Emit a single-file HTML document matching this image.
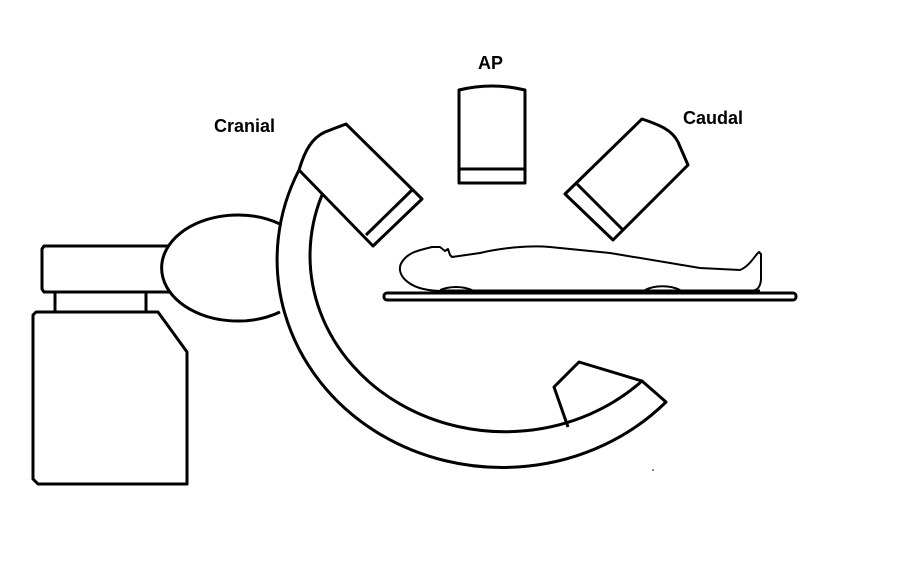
<!DOCTYPE html>
<html><head><style>html,body{margin:0;padding:0;background:#fff}svg{display:block}</style></head>
<body>
<svg width="918" height="570" viewBox="0 0 918 570" xmlns="http://www.w3.org/2000/svg">
<g fill="none" stroke="#000" stroke-width="3" stroke-linejoin="round">
<!-- base -->
<path d="M36,312 L158,312 L187,352 L187,484 L38,484 L33,479 L33,315 Z" fill="#fff"/>
<line x1="55" y1="292" x2="55" y2="312"/>
<line x1="146" y1="292" x2="146" y2="312"/>
<path d="M44,246 L200,246 L200,292 L44,292 L42,289 L42,249 Z" fill="#fff"/>
<path d="M280,224 A76,53 0 1 0 280,312" fill="#fff"/>
<!-- C-arm -->
<path d="M299,170 A225,208 0 0 0 666,402 L642,381 A195,176 0 0 1 322,195" fill="#fff"/>
<!-- bottom detector -->
<path d="M568,427 L554,387 L579,362 L642,381"/>
<!-- cranial tube -->
<path d="M299,170 C305,150 312,138 325,132 L346,124 L422,199 L373,246 Z" fill="#fff"/>
<line x1="412" y1="190" x2="366" y2="235"/>
<!-- AP -->
<path d="M459,90 Q492,82 525,90 L525,183 L459,183 Z" fill="#fff"/>
<line x1="459" y1="169" x2="525" y2="169"/>
<!-- caudal -->
<path d="M642,119 C660,125 672,130 678,142 L688,165 L613,240 L565,194 Z" fill="#fff"/>
<line x1="576" y1="183" x2="623" y2="230"/>
<!-- table -->
<rect x="384" y="293" width="412" height="7" rx="3" fill="#fff"/>
</g>
<g fill="none" stroke="#000" stroke-width="2" stroke-linejoin="round">
<path d="M440,291 C405,290 395,272 402,262 C408,252 420,250 432,247 L440,247 L445,251 L448,249 L450,255 L452,257 L480,253 C500,248 530,245 550,247 L610,253 L700,268 L740,270 C750,266 755,255 759,252 L761,254 L761,280 C760,288 757,290 752,291"/>
<path d="M440,291 L760,291" stroke-width="3"/>
<path d="M440,290 C450,286 462,286 472,290"/>
<path d="M645,290 C655,285 670,285 680,290"/>
</g>
<circle cx="653" cy="470" r="0.8" fill="#000"/>
<g font-family="Liberation Sans, sans-serif" font-weight="bold" font-size="18" fill="#000">
<text x="478" y="69">AP</text>
<text x="214" y="132">Cranial</text>
<text x="683" y="124">Caudal</text>
</g>
</svg>
</body></html>
